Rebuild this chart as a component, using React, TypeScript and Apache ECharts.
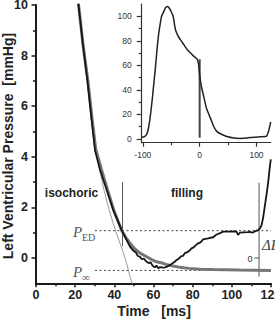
import React, { useEffect, useRef } from "react";
import * as echarts from "echarts";

// ---- tick labels ----
const mainXTicks = [0, 20, 40, 60, 80, 100, 120];
const mainXMinorTicks = [10, 30, 50, 70, 90, 110];
const mainYTicks = [0, 2, 4, 6, 8, 10];
const mainYMinorTicks = [1, 3, 5, 7, 9];
const insetXTicks = [-100, 0, 100];
const insetXMinorTicks = [-50, 50];
const insetYTicks = [0, 20, 40, 60, 80, 100];
const insetYMinorTicks = [10, 30, 50, 70, 90];

// ---- measured LV pressure (black) ----
const measuredTime = [
  21.3, 24, 26.2, 28.2, 30.1, 32.7, 36.1, 39.4, 43.7, 46, 48.0, 49.6, 51, 52, 53.1, 54, 55, 56.5, 57.5, 58.5,
  59.5, 60.7, 61.5, 62.4, 63.5, 64.9, 66, 67.5, 69, 70.5, 71.8, 73, 74, 75, 76, 77, 78.5, 79.4, 80.5, 81.5,
  82.8, 84, 85.4, 86.5, 87.9, 89, 90.5, 92, 93.9, 95.6, 97, 99, 101, 102.4, 103.2, 104.1, 106, 108, 109.2,
  110.5, 111.7, 113.4, 114.5, 115.2, 116, 116.8, 117.6, 118.5, 119.4, 119.9,
];
const measuredPressure = [
  10.3, 8.4, 7.04, 5.6, 4.27, 3.48, 2.69, 1.9, 1.11, 0.75, 0.45, 0.3, 0.22, 0.08, 0.05, -0.05, -0.02, -0.15, -0.2, -0.17,
  -0.3, -0.37, -0.3, -0.4, -0.36, -0.38, -0.37, -0.32, -0.25, -0.17, -0.08, -0.02, 0.06, 0.08, 0.19, 0.22, 0.3, 0.38, 0.42, 0.5,
  0.58, 0.62, 0.74, 0.76, 0.78, 0.8, 0.82, 0.92, 0.98, 1.04, 1.04, 1.04, 1.05, 1.04, 0.91, 1.0, 1.01, 1.02, 1.03,
  1.0, 1.05, 1.1, 1.18, 1.3, 1.6, 2.03, 2.45, 2.95, 3.61, 3.9,
];

// ---- exponential fit to P-infinity (thick gray) ----
const fitTime = [21.3, 24, 26.5, 28.5, 30.5, 33.5, 36.5, 39.7, 43.8, 46, 48, 50.5, 53.1, 56.5, 59, 61.6, 64.9, 67.5, 70, 73.5, 78, 84, 90.3, 97, 104, 112, 120];
const fitPressure = [10.3, 8.45, 7.0, 5.6, 4.3, 3.48, 2.7, 1.9, 1.08, 0.8, 0.58, 0.36, 0.19, 0.05, -0.06, -0.15, -0.21, -0.28, -0.32, -0.37, -0.41, -0.44, -0.45, -0.46, -0.47, -0.48, -0.49];

// ---- fit to zero asymptote (thin gray) ----
const zeroFitTime = [30.8, 32.2, 34.3, 36.8, 39.4, 41.2, 42.9, 44.6, 46.3, 48.0, 49.6];
const zeroFitPressure = [4.2, 3.6, 2.82, 2.05, 1.37, 0.95, 0.58, 0.2, -0.21, -0.74, -1.1];

// ---- reference levels / markers ----
const pED = 1.08;
const pInf = -0.49;
const levelRange = [30.1, 120];
const isochoricEnd = 44.2;
const isochoricMarker = [0.47, 3.0];
const fillingEnd = 113.9;
const fillingMarker = [-0.74, 2.97];
const deltaZeroTick = [111.4, 113.9];

// ---- inset: full beat ----
const insetTime = [
  -102, -97, -93, -90, -87.6, -83.5, -80.5, -77.7, -75, -72, -69, -67, -63, -60, -57, -54, -51.4, -46.7, -42.6, -38,
  -34, -28, -22, -16, -10.5, -4.6, -2, 0, 3, 7, 12, 19, 25, 30.5, 40, 48, 60, 71, 83, 95, 107, 115, 118, 121, 125,
];
const insetPressure = [
  1.5, 2, 4, 9, 16, 32, 46, 59, 73, 86, 95, 100, 104, 107, 108, 107, 105, 100, 89, 84,
  81, 77, 73, 70, 67.5, 65, 61, 52, 43, 35, 25, 17, 10, 6, 3.5, 2, 0.8, 0.5, 0.8, 1.5, 1.8, 2, 2.5, 6, 14,
];
const insetMarkerTime = 0;
const insetMarker = [1, 65];

const zip = (xs: number[], ys: number[]) => xs.map((x, i) => [x, ys[i]]);

const SANS = "'Liberation Sans', Arial, Helvetica, sans-serif";
const SERIF = "'Liberation Serif', 'Times New Roman', serif";

export default function App() {
  const ref = useRef<HTMLDivElement>(null);
  useEffect(() => {
    if (!ref.current) return;
    const chart = echarts.init(ref.current, null, { renderer: "svg" });

    const mainAxisLine = { show: true, onZero: false, lineStyle: { color: "#1a1a1a", width: 2 } };
    const insetAxisLine = { show: true, onZero: false, lineStyle: { color: "#333", width: 1.2 } };
    const hiddenLine = { show: false, onZero: false };
    const mainLabel = { fontFamily: SANS, fontWeight: "bold", fontSize: 12.5, color: "#222" } as any;
    const insetLabel = { fontFamily: SANS, fontSize: 8.5, color: "#333" } as any;

    const line = (data: number[][], color: string, width: number, xi: number, yi: number, extra: any = {}, smooth: any = false) => ({
      type: "line",
      data,
      xAxisIndex: xi,
      yAxisIndex: yi,
      symbol: "none",
      silent: true,
      smooth,
      lineStyle: { color, width, ...extra },
    });

    const option: any = {
      animation: false,
      grid: [
        { left: 36, top: 5, width: 235, height: 278.3, outerBoundsMode: "none", containLabel: false },
        { left: 141.7, top: 4, width: 129, height: 138.7, outerBoundsMode: "none", containLabel: false },
      ],
      xAxis: [
        {
          type: "value", gridIndex: 0, min: 0, max: 120, position: "bottom",
          axisLine: mainAxisLine,
          axisTick: { show: true, customValues: mainXTicks, length: 4, lineStyle: { color: "#1a1a1a", width: 1.5 } },
          axisLabel: { ...mainLabel, customValues: mainXTicks, margin: 5, hideOverlap: false },
          splitLine: { show: false },
        },
        {
          type: "value", gridIndex: 0, min: 0, max: 120, position: "bottom",
          axisLine: hiddenLine,
          axisTick: { show: true, customValues: mainXMinorTicks, length: 3, lineStyle: { color: "#1a1a1a", width: 1.5 } },
          axisLabel: { show: false },
          splitLine: { show: false },
        },
        {
          type: "value", gridIndex: 1, min: -102, max: 125, position: "bottom",
          axisLine: insetAxisLine,
          axisTick: { show: true, customValues: insetXTicks, length: 4, lineStyle: { color: "#333", width: 1.2 } },
          axisLabel: { ...insetLabel, customValues: insetXTicks, margin: 8 },
          splitLine: { show: false },
        },
        {
          type: "value", gridIndex: 1, min: -102, max: 125, position: "bottom",
          axisLine: hiddenLine,
          axisTick: { show: true, customValues: insetXMinorTicks, length: 2.5, lineStyle: { color: "#333", width: 1.2 } },
          axisLabel: { show: false },
          splitLine: { show: false },
        },
      ],
      yAxis: [
        {
          type: "value", gridIndex: 0, min: -1, max: 10, position: "left",
          axisLine: mainAxisLine,
          axisTick: { show: true, customValues: mainYTicks, length: 4.5, lineStyle: { color: "#1a1a1a", width: 1.5 } },
          axisLabel: { ...mainLabel, customValues: mainYTicks, margin: 8 },
          splitLine: { show: false },
        },
        {
          type: "value", gridIndex: 0, min: -1, max: 10, position: "left",
          axisLine: hiddenLine,
          axisTick: { show: true, customValues: mainYMinorTicks, length: 3, lineStyle: { color: "#1a1a1a", width: 1.5 } },
          axisLabel: { show: false },
          splitLine: { show: false },
        },
        {
          type: "value", gridIndex: 1, min: -3, max: 110, position: "left",
          axisLine: insetAxisLine,
          axisTick: { show: true, customValues: insetYTicks, length: 5, lineStyle: { color: "#333", width: 1.2 } },
          axisLabel: { ...insetLabel, customValues: insetYTicks, margin: 10 },
          splitLine: { show: false },
        },
        {
          type: "value", gridIndex: 1, min: -3, max: 110, position: "left",
          axisLine: hiddenLine,
          axisTick: { show: true, customValues: insetYMinorTicks, length: 3, lineStyle: { color: "#333", width: 1.2 } },
          axisLabel: { show: false },
          splitLine: { show: false },
        },
      ],
      series: [
        line([[levelRange[0], pED], [levelRange[1], pED]], "#444", 1, 0, 0, { type: [2, 2.5] }),
        line([[levelRange[0], pInf], [levelRange[1], pInf]], "#444", 1, 0, 0, { type: [2, 2.5] }),
        line([[isochoricEnd, isochoricMarker[0]], [isochoricEnd, isochoricMarker[1]]], "#555", 1, 0, 0),
        line([[fillingEnd, fillingMarker[0]], [fillingEnd, fillingMarker[1]]], "#555", 1, 0, 0),
        line([[deltaZeroTick[0], 0], [deltaZeroTick[1], 0]], "#555", 1, 0, 0),
        line(zip(zeroFitTime, zeroFitPressure), "#9a9a9a", 1, 0, 0),
        line(zip(fitTime, fitPressure), "#767676", 3, 0, 0),
        line(zip(measuredTime, measuredPressure), "#161616", 1.8, 0, 0),
        line([[insetMarkerTime, insetMarker[0]], [insetMarkerTime, insetMarker[1]]], "#444", 2, 2, 2),
        line(zip(insetTime, insetPressure), "#222", 1.5, 2, 2, {}, 0.3),
      ],
      graphic: [
        {
          type: "text", x: 8, y: 146, rotation: Math.PI / 2,
          style: { text: "Left Ventricular Pressure  [mmHg]", fontFamily: SANS, fontWeight: "bold", fontSize: 14, fill: "#222", align: "center", verticalAlign: "middle", textAlign: "center", textVerticalAlign: "middle" },
        },
        {
          type: "text", x: 154, y: 311,
          style: { text: "Time   [ms]", fontFamily: SANS, fontWeight: "bold", fontSize: 14, fill: "#222", align: "center", verticalAlign: "middle", textAlign: "center", textVerticalAlign: "middle" },
        },
        {
          type: "text", x: 71.5, y: 193,
          style: { text: "isochoric", fontFamily: SANS, fontWeight: "bold", fontSize: 12, fill: "#222", align: "center", verticalAlign: "middle", textAlign: "center", textVerticalAlign: "middle" },
        },
        {
          type: "text", x: 187, y: 193,
          style: { text: "filling", fontFamily: SANS, fontWeight: "bold", fontSize: 12, fill: "#222", align: "center", verticalAlign: "middle", textAlign: "center", textVerticalAlign: "middle" },
        },
        {
          type: "text", x: 73, y: 232,
          style: { text: "P", fontFamily: SERIF, fontStyle: "italic", fontSize: 15, fill: "#555", align: "left", verticalAlign: "middle", textAlign: "left", textVerticalAlign: "middle" },
        },
        {
          type: "text", x: 82, y: 237,
          style: { text: "ED", fontFamily: SERIF, fontSize: 10, fill: "#555", align: "left", verticalAlign: "middle", textAlign: "left", textVerticalAlign: "middle" },
        },
        {
          type: "text", x: 73, y: 271.5,
          style: { text: "P", fontFamily: SERIF, fontStyle: "italic", fontSize: 15, fill: "#555", align: "left", verticalAlign: "middle", textAlign: "left", textVerticalAlign: "middle" },
        },
        {
          type: "text", x: 82, y: 277,
          style: { text: "∞", fontFamily: SERIF, fontSize: 11, fill: "#555", align: "left", verticalAlign: "middle", textAlign: "left", textVerticalAlign: "middle" },
        },
        {
          type: "text", x: 262, y: 245,
          style: { text: "ΔP", fontFamily: SERIF, fontStyle: "italic", fontSize: 15, fill: "#444", align: "left", verticalAlign: "middle", textAlign: "left", textVerticalAlign: "middle" },
        },
        {
          type: "text", x: 250, y: 258.5,
          style: { text: "0", fontFamily: SANS, fontSize: 9, fill: "#333", align: "center", verticalAlign: "middle", textAlign: "center", textVerticalAlign: "middle" },
        },
      ],
    };
    chart.setOption(option);
    return () => chart.dispose();
  }, []);
  return <div ref={ref} style={{ position: "fixed", left: 0, top: 0, width: 275, height: 322, background: "#fff" }} />;
}
